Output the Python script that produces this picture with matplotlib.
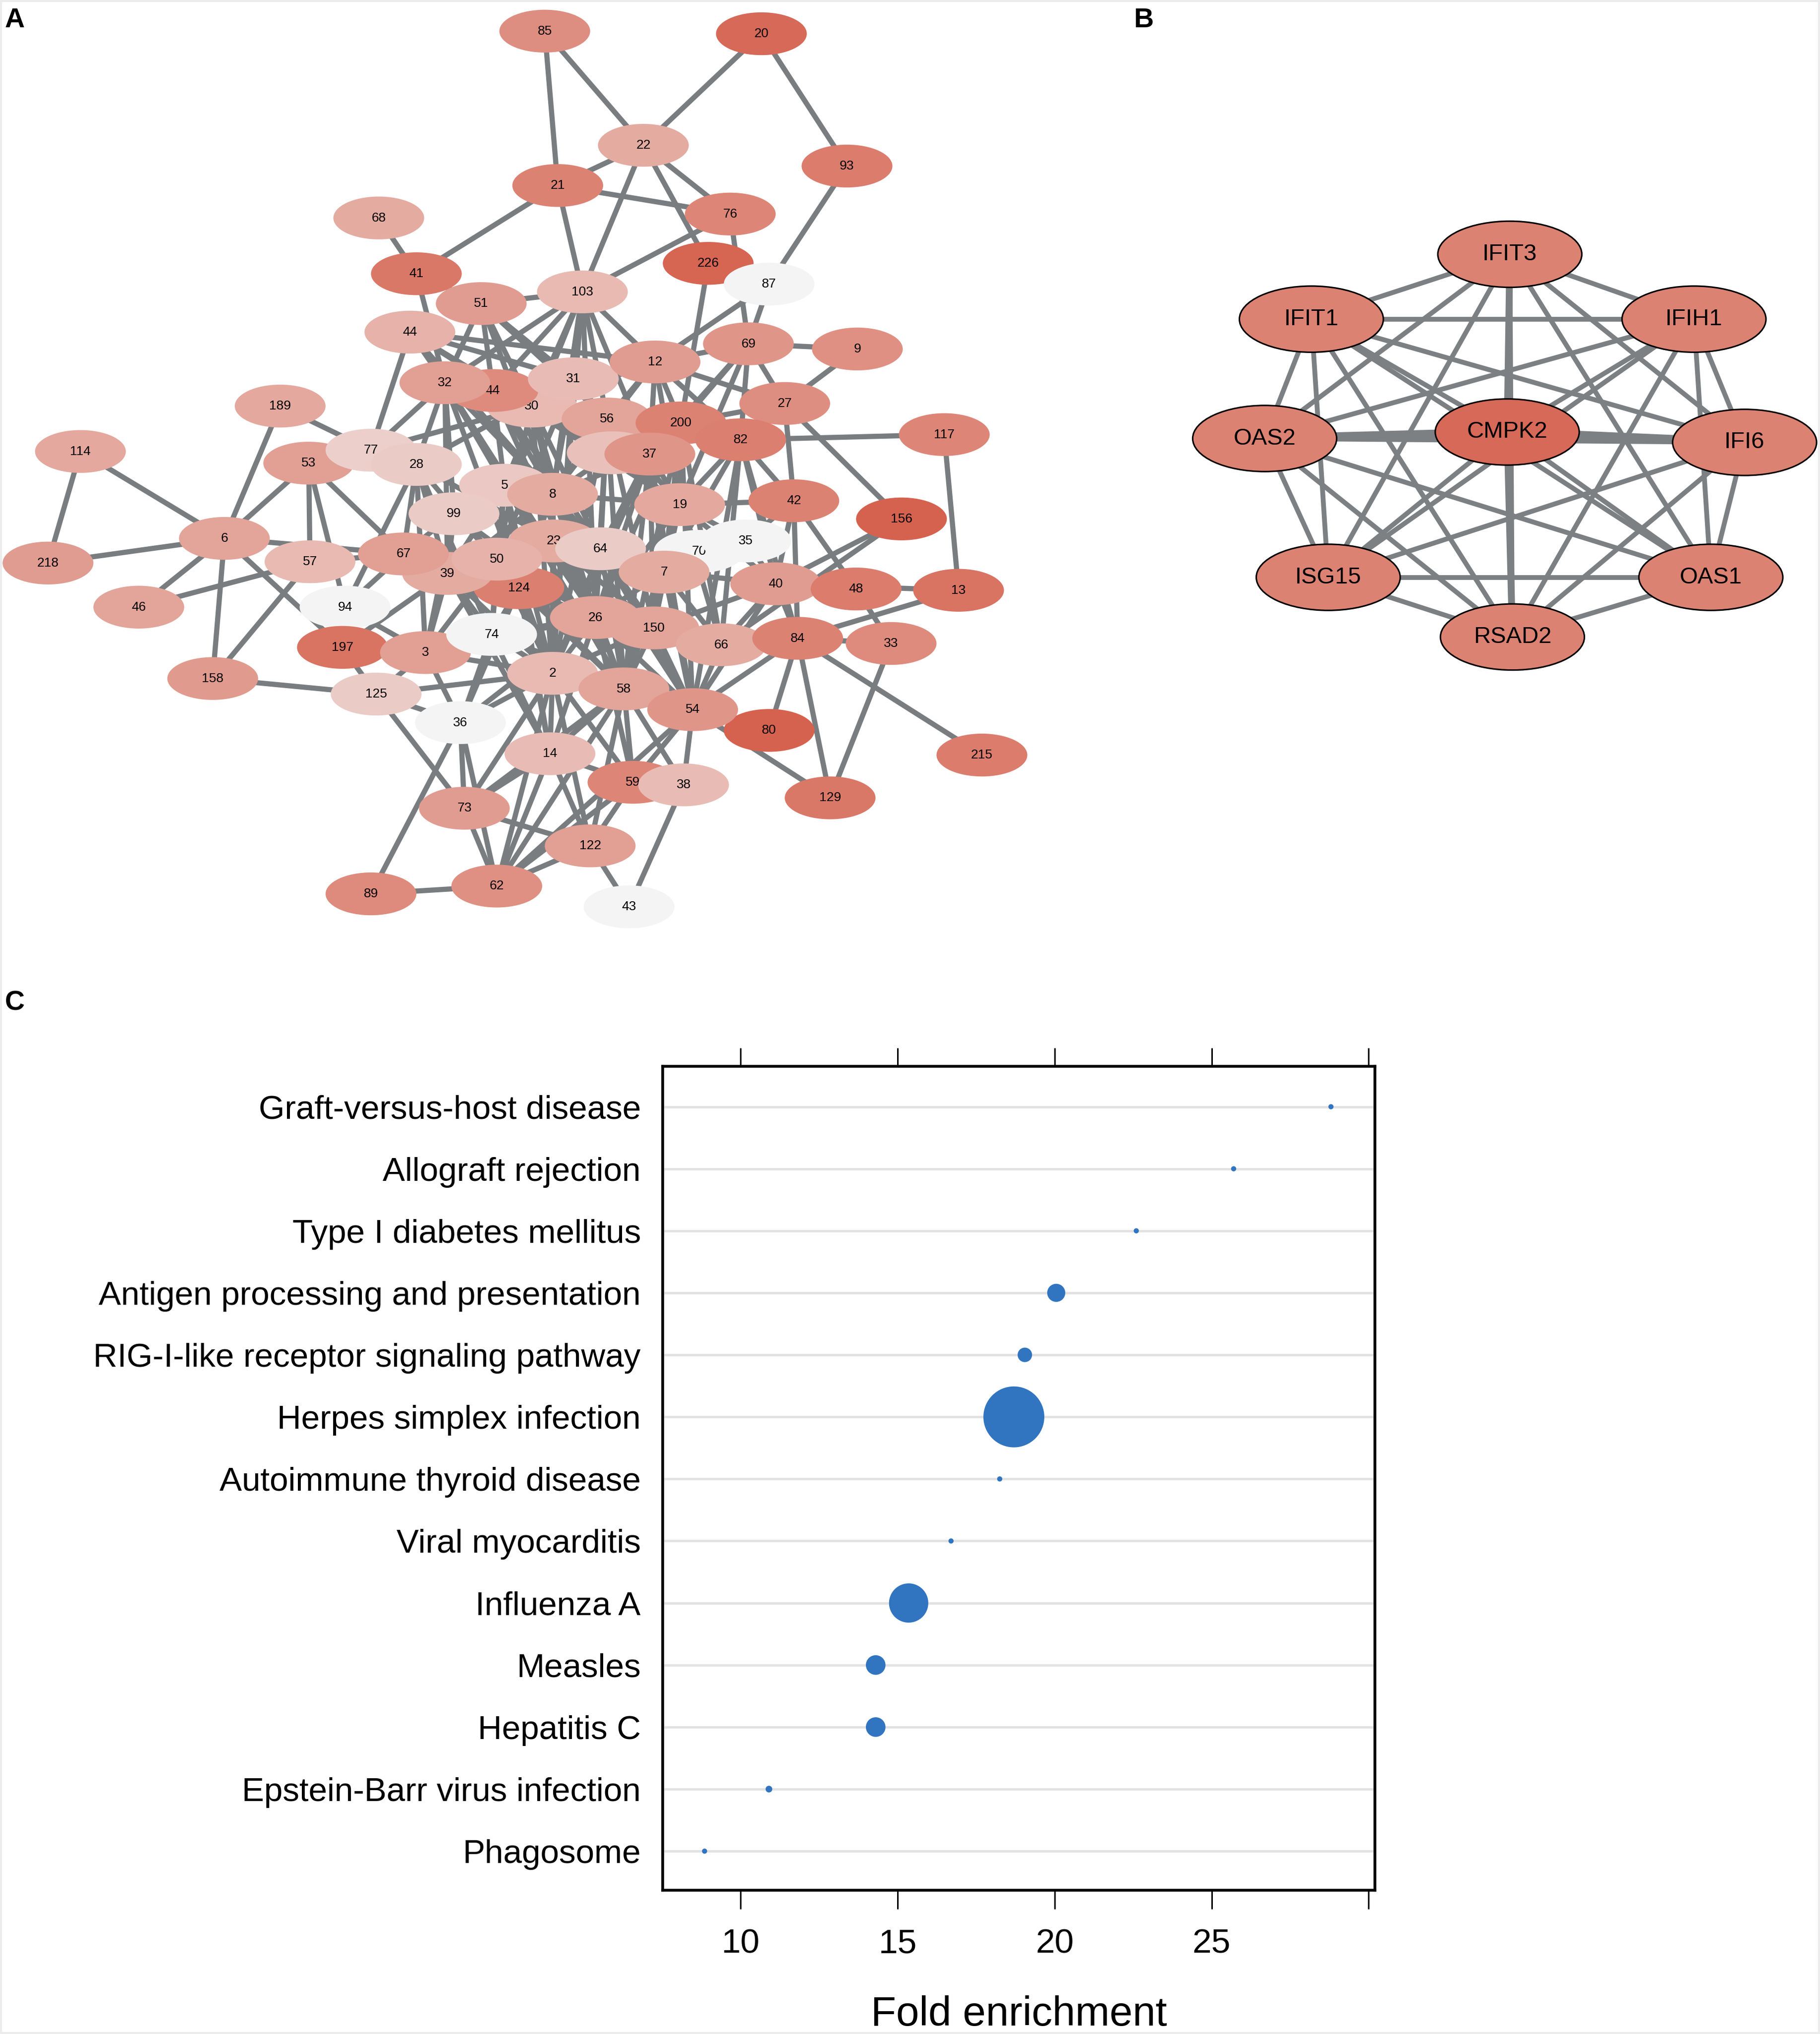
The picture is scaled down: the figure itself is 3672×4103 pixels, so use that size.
import matplotlib
matplotlib.use("Agg")
import matplotlib.pyplot as plt
import numpy as np
from matplotlib.patches import Ellipse, Rectangle
from matplotlib.collections import LineCollection
from matplotlib.colors import LinearSegmentedColormap

plt.rcParams['font.family'] = ['Liberation Sans', 'DejaVu Sans']
NARROW = ['Liberation Sans Narrow', 'Liberation Sans', 'DejaVu Sans']

# ---------------- Panel A: PPI network (layout in reference pixel grid) ----------------
# nodes listed in drawing order (later ones sit on top)
node_ids = ['85', '20', '22', '93', '21', '76', '68', '41', '226', '87',
            '103', '51', '44', '69', '9', '30', '44b', '32', '31', '12',
            '189', '27', '117', '56', '200', 'p', '37', '82', '114', '53',
            '77', '28', '5', '8', '99', '19', '42', '156', '6', '218',
            '57', '124', '39', '67', '23', '50', '64', '70', '35', '7',
            '40', '48', '13', '46', '94', '150', '26', '66', '84', '33',
            '197', '3', '74', '158', '2', '125', '58', '80', '54', '36',
            '14', '215', '59', '38', '129', '73', '122', '89', '62', '43']
node_x = [420, 587, 496, 653, 430, 563, 292, 321, 546, 593,
          449, 371, 316, 577, 661, 410, 380, 343, 442, 505,
          216, 605, 728, 468, 525, 472, 501, 571, 62, 238,
          286, 321, 389, 426, 350, 524, 612, 695, 173, 37,
          239, 400, 345, 311, 427, 383, 463, 539, 575, 512,
          598, 660, 739, 107, 266, 504, 459, 556, 615, 687,
          264, 328, 379, 164, 426, 290, 481, 593, 534, 355,
          424, 757, 488, 527, 640, 358, 455, 286, 383, 485]
node_y = [24, 26, 112, 128, 143, 165, 168, 211, 203, 219,
          225, 234, 256, 265, 269, 313, 301, 295, 292, 279,
          313, 311, 335, 323, 326, 349, 350, 339, 348, 357,
          347, 358, 374, 381, 396, 389, 386, 400, 415, 434,
          433, 453, 442, 427, 417, 431, 423, 425, 417, 441,
          450, 454, 455, 468, 468, 484, 476, 497, 492, 496,
          499, 503, 489, 523, 519, 535, 531, 563, 547, 557,
          581, 582, 603, 605, 615, 623, 652, 689, 683, 699]
node_score = [0.70, 0.95, 0.50, 0.82, 0.78, 0.75, 0.50, 0.85, 0.98, 0.00,
              0.40, 0.60, 0.45, 0.65, 0.68, 0.40, 0.72, 0.58, 0.38, 0.60,
              0.52, 0.70, 0.75, 0.55, 0.78, 0.35, 0.65, 0.80, 0.52, 0.58,
              0.25, 0.28, 0.30, 0.50, 0.28, 0.52, 0.78, 1.00, 0.55, 0.60,
              0.40, 0.80, 0.50, 0.58, 0.50, 0.45, 0.28, 0.00, 0.00, 0.50,
              0.60, 0.82, 0.88, 0.55, 0.00, 0.55, 0.55, 0.50, 0.78, 0.72,
              0.88, 0.58, 0.00, 0.62, 0.40, 0.28, 0.55, 1.00, 0.65, 0.00,
              0.38, 0.82, 0.75, 0.38, 0.85, 0.60, 0.58, 0.72, 0.68, 0.00]
node_text = {'44b': '44', 'p': ''}

edges_a = """
85-21 85-22 20-22 20-93 22-21 22-103 22-76 22-226 21-76 21-103 21-41 68-41 41-32
41-51 76-103 76-69 226-200 93-87 87-69 87-12 69-9 9-27 69-27 69-12 69-200 82-117
117-13 27-156 27-42 42-48 156-40 156-66 13-84 42-84 84-129 84-33 84-215 84-80
33-129 48-33 54-129 84-54 43-38 43-122 122-14 122-62 122-73 14-62 114-6 114-218
218-6 6-46 6-158 6-53 6-67 6-197 6-189 46-57 53-57 53-94 53-67 158-57 158-125 94-3
28-94 197-39 197-125 3-125 125-36 125-73 125-2 36-89 36-73 73-62 89-62 189-77 44-77
73-58
103-51 103-44b 103-32 103-31 103-30 103-12 103-56 103-5 103-8 103-37 103-2 103-26
12-31 12-56 12-200 12-27 12-82 12-37 12-19 12-8 12-30
31-32 31-44b 31-30 31-56 31-8 31-5 31-28 31-50 31-2
32-44b 32-30 32-8 32-5 32-99 32-28 32-39 32-2 32-26 32-58
44b-51 44b-8 44b-5 44b-37 44b-26 44b-64
51-30 51-32 51-31 51-56 51-8
44-32 44-31 44-30 44-8 44-12 44-19
30-56 30-8 30-19 30-26 30-2 30-64 30-50
56-37 56-8 56-19 56-26 56-64 56-150 56-2 56-58
200-37 200-82 200-19 200-7 200-26 200-66 200-54 200-58
82-19 82-42 82-40 82-66 82-7 82-54 82-84
37-8 37-19 37-26 37-64 37-7 37-150 37-2 37-58 37-54
5-8 5-99 5-50 5-39 5-26 5-2 5-58 5-14 5-74
8-19 8-64 8-23 8-26 8-150 8-2 8-58 8-54 8-124 8-39
19-70 19-35 19-7 19-26 19-150 19-40 19-42 19-66 19-58
99-50 99-39 99-67 99-3 99-26
28-67 28-39 28-50 28-3 28-74 28-23
50-39 50-124 50-26 50-3 50-74 50-2 50-58
39-124 39-74 39-3 39-2 39-14
124-26 124-74 124-2 124-58 124-14 124-36
23-64 23-26 23-2 23-150
64-7 64-26 64-150 64-2 64-58 64-54
7-26 7-150 7-66 7-40 7-54 7-58
26-150 26-2 26-58 26-54 26-14 26-59 26-74 26-3
150-66 150-2 150-58 150-54 150-40
2-58 2-54 2-14 2-59 2-36 2-3 2-74 2-122 2-62 2-73
58-54 58-14 58-59 58-38 58-122
54-59 54-38 54-40 54-66 54-80
14-59 14-73 59-38 59-122 59-62 3-74 3-36 74-36 74-14 74-54
66-40 66-84 40-35 40-48 40-84 40-42 40-13 70-7 70-35 35-42
69-19 69-37 69-82 27-82 27-200 67-50 67-39 67-124 67-26 67-94
57-67 53-28 53-77 77-28 77-32 77-30 62-54 62-58 36-26 36-62
p-37 p-8 p-19
""".split()

# ---------------- Panel B: hub gene network ----------------
hub_genes = ['IFIT3', 'IFIT1', 'IFIH1', 'OAS2', 'CMPK2', 'IFI6', 'ISG15', 'OAS1', 'RSAD2']
hub_x = [1164, 1011, 1306, 975, 1162, 1345, 1024, 1319, 1166]
hub_y = [196, 246, 246, 338, 333, 341, 445, 445, 491]
hub_score = [0.78, 0.78, 0.78, 0.78, 0.95, 0.78, 0.78, 0.78, 0.78]
hub_strong = [('CMPK2', 'OAS2'), ('CMPK2', 'IFI6')]
hub_medium = [('CMPK2', 'IFIT3'), ('CMPK2', 'RSAD2')]

# ---------------- Panel C: KEGG enrichment ----------------
pathways = ['Graft-versus-host disease', 'Allograft rejection', 'Type I diabetes mellitus',
            'Antigen processing and presentation', 'RIG-I-like receptor signaling pathway',
            'Herpes simplex infection', 'Autoimmune thyroid disease', 'Viral myocarditis',
            'Influenza A', 'Measles', 'Hepatitis C', 'Epstein-Barr virus infection', 'Phagosome']
fold_enrichment = [28.8, 25.7, 22.6, 20.05, 19.05, 18.7, 18.25, 16.7, 15.35, 14.3, 14.3, 10.9, 8.85]
dot_weight = [1.0, 1.0, 1.0, 3.5, 2.8, 11.8, 1.0, 1.0, 7.6, 3.8, 3.8, 1.3, 1.0]

# ---------------- figure ----------------
S = 2.617                      # reference grid -> output pixels
W, H = 3672 / S, 4103 / S
fig = plt.figure(figsize=(36.72, 41.03), dpi=100)

ax = fig.add_axes([0, 0, 1, 1])
ax.set_xlim(0, W)
ax.set_ylim(H, 0)
ax.axis('off')

cmap = LinearSegmentedColormap.from_list('pale_red', ['#f4f4f4', '#d5624f'])

# panel A edges
pos = {n: (x, y) for n, x, y in zip(node_ids, node_x, node_y)}
seen = set()
segs = []
for e in edges_a:
    a, b = e.split('-')
    key = frozenset((a, b))
    if key in seen:
        continue
    seen.add(key)
    segs.append([pos[a], pos[b]])
ax.add_collection(LineCollection(segs, colors='#797d80', linewidths=7.5, zorder=1,
                                 capstyle='butt'))

# panel A nodes, each label drawn with its node so later nodes cover earlier labels
for i, (n, x, y, sc) in enumerate(zip(node_ids, node_x, node_y, node_score)):
    ax.add_patch(Ellipse((x, y), 70, 33, facecolor=cmap(sc), edgecolor='none',
                         zorder=2 + 2 * i))
    ax.text(x, y, node_text.get(n, n), ha='center', va='center', fontsize=19,
            color='black', zorder=3 + 2 * i)

# panel B
hpos = {g: (x, y) for g, x, y in zip(hub_genes, hub_x, hub_y)}
for i in range(len(hub_genes)):
    for j in range(i + 1, len(hub_genes)):
        a, b = hub_genes[i], hub_genes[j]
        if (a, b) in hub_strong or (b, a) in hub_strong:
            lw = 12.5
        elif (a, b) in hub_medium or (b, a) in hub_medium:
            lw = 10
        else:
            lw = 7
        ax.plot([hpos[a][0], hpos[b][0]], [hpos[a][1], hpos[b][1]], color='#7c8083',
                lw=lw, zorder=400, solid_capstyle='butt')
for g, x, y, sc in zip(hub_genes, hub_x, hub_y, hub_score):
    ax.add_patch(Ellipse((x, y), 111, 51, facecolor=cmap(sc), edgecolor='black',
                         lw=2.2, zorder=401))
    ax.text(x, y, g, ha='center', va='center', fontsize=34, zorder=402)

# panel C
axc = fig.add_axes([511 / W, 1 - 1457 / H, (1060 - 511) / W, (1457 - 822) / H])
rows = np.arange(len(pathways))[::-1]
sizes = (np.array(dot_weight) * 7.5) ** 2
axc.scatter(fold_enrichment, rows, s=sizes, color='#3174c0', edgecolors='none', zorder=3)
axc.set_yticks(rows)
axc.set_yticklabels(pathways)
axc.grid(axis='y', color='#e2e2e2', lw=3.5)
axc.set_axisbelow(True)
axc.set_xlim(7.52, 30.2)
axc.set_ylim(-0.63, 12.65)
axc.set_xticks([10, 15, 20, 25, 30])
axc.set_xticklabels(['10', '15', '20', '25', ''])
axc.tick_params(axis='x', direction='out', length=27, width=2.2, top=True,
                labeltop=False, pad=28, labelsize=50)
axc.tick_params(axis='y', length=0, pad=32, labelsize=48.5)
for lab in axc.get_xticklabels() + axc.get_yticklabels():
    lab.set_family(NARROW)
for sp in axc.spines.values():
    sp.set_linewidth(4)
fig.text(785.5 / W, 1 - 1553 / H, 'Fold enrichment', ha='center', va='center',
         fontsize=60, family=NARROW)

# panel letters
fig.text(10 / 3672, 1 - 15 / 4103, 'A', ha='left', va='top', fontsize=40, fontweight='bold')
fig.text(2287 / 3672, 1 - 15 / 4103, 'B', ha='left', va='top', fontsize=40, fontweight='bold')
fig.text(10 / 3672, 1 - 1998 / 4103, 'C', ha='left', va='top', fontsize=40, fontweight='bold')

fig.add_artist(Rectangle((0, 0), 1, 1, transform=fig.transFigure, fill=False,
                         edgecolor='#ececec', lw=6))

fig.savefig('out.png', dpi=100)
